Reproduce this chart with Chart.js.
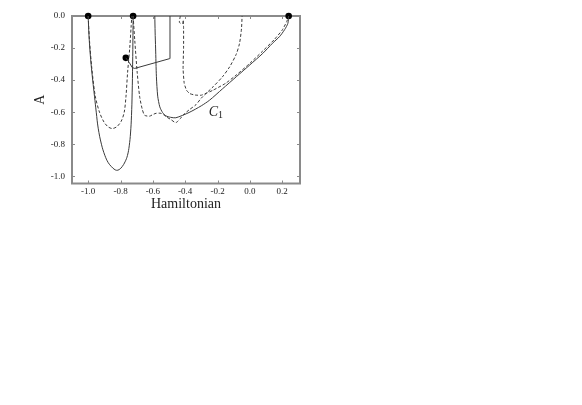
<!DOCTYPE html>
<html>
<head>
<meta charset="utf-8">
<script src="https://cdn.jsdelivr.net/npm/chart.js@4/dist/chart.umd.min.js"></script>
<style>
  html, body { margin: 0; padding: 0; background: #fff; }
  #c { display: block; }
</style>
</head>
<body>
<canvas id="c" width="582" height="405"></canvas>
<script>
// ---- data ----
const xTicks = [-1.0, -0.8, -0.6, -0.4, -0.2, 0.0, 0.2];
const yTicks = [0.0, -0.2, -0.4, -0.6, -0.8, -1.0];

// solid U-shaped curve
const solidUX = [-1.0, -0.996, -0.99, -0.982, -0.972, -0.961, -0.95, -0.938, -0.918, -0.897, -0.876, -0.856, -0.84, -0.825, -0.808, -0.79, -0.772, -0.757, -0.746, -0.738, -0.732, -0.728, -0.725, -0.723, -0.722];
const solidUY = [0.0, -0.1, -0.2, -0.3, -0.4, -0.5, -0.6, -0.7, -0.8, -0.869, -0.915, -0.94, -0.955, -0.9625, -0.958, -0.94, -0.91, -0.87, -0.81, -0.73, -0.62, -0.48, -0.3, -0.12, 0.0];

// dashed U-shaped curve
const dashUX = [-1.0, -0.992, -0.977, -0.956, -0.93, -0.902, -0.876, -0.85, -0.822, -0.796, -0.777, -0.766, -0.756, -0.743, -0.734, -0.73];
const dashUY = [0.0, -0.15, -0.33, -0.5, -0.6, -0.662, -0.692, -0.702, -0.69, -0.657, -0.6, -0.5, -0.35, -0.2, -0.06, 0.0];

// dashed curve running from the second dot to the right
const dash2X = [-0.722, -0.712, -0.697, -0.682, -0.666, -0.651, -0.621, -0.6, -0.58, -0.55, -0.535, -0.519, -0.49, -0.458, -0.43, -0.414, -0.375, -0.333, -0.3, -0.228, -0.17, -0.125, -0.085, -0.064, -0.052, -0.048];
const dash2Y = [0.0, -0.15, -0.35, -0.5, -0.58, -0.619, -0.625, -0.615, -0.607, -0.607, -0.615, -0.628, -0.645, -0.665, -0.64, -0.619, -0.585, -0.553, -0.512, -0.442, -0.38, -0.317, -0.24, -0.171, -0.08, 0.0];

// dashed curve starting near H = -0.43
const dash3X = [-0.43, -0.436, -0.416, -0.412, -0.41, -0.41, -0.413, -0.406, -0.392, -0.372, -0.34, -0.3, -0.228, -0.15, -0.08, 0.0, 0.08, 0.15, 0.2, 0.228, 0.24];
const dash3Y = [0.0, -0.04, -0.05, -0.025, -0.07, -0.2, -0.33, -0.42, -0.463, -0.484, -0.493, -0.494, -0.463, -0.42, -0.365, -0.295, -0.218, -0.148, -0.088, -0.035, 0.0];

// solid curve C1
const c1X = [-0.588, -0.586, -0.583, -0.578, -0.57, -0.557, -0.54, -0.519, -0.49, -0.458, -0.376, -0.3, -0.249, -0.17, -0.084, 0.0, 0.08, 0.14, 0.183, 0.215, 0.235, 0.24];
const c1Y = [0.0, -0.1, -0.2, -0.379, -0.5, -0.567, -0.602, -0.623, -0.632, -0.635, -0.602, -0.56, -0.525, -0.455, -0.379, -0.305, -0.233, -0.17, -0.129, -0.085, -0.046, 0.0];

// solid path from the inner dot
const pathX = [-0.767, -0.746, -0.727, -0.712, -0.496, -0.494, -0.494];
const pathY = [-0.261, -0.29, -0.322, -0.327, -0.266, -0.245, 0.0];

// black dots
const dotX = [-1.0, -0.722, 0.24, -0.767];
const dotY = [0.0, 0.0, 0.0, -0.261];

const curveLabel = 'C';
const curveLabelSub = '1';
const curveLabelAt = { x: -0.255, y: -0.625 };

// ---- build ----
function pts(xs, ys) { return xs.map((x, i) => ({ x: x, y: ys[i] })); }
const SERIF = '"Liberation Serif", "DejaVu Serif", serif';
const LINE = '#3a3a3a';

function lineDS(xs, ys, dashed, tension) {
  return {
    data: pts(xs, ys),
    showLine: true,
    borderColor: LINE,
    borderWidth: 1,
    borderDash: dashed ? [3, 2] : [],
    pointRadius: 0,
    tension: tension,
    fill: false,
    clip: false
  };
}

const datasets = [
  lineDS(solidUX, solidUY, false, 0.4),
  lineDS(dashUX, dashUY, true, 0.3),
  lineDS(dash2X, dash2Y, true, 0.25),
  lineDS(dash3X, dash3Y, true, 0.15),
  lineDS(c1X, c1Y, false, 0.25),
  lineDS(pathX, pathY, false, 0),
  {
    data: pts(dotX, dotY),
    showLine: false,
    pointRadius: 3.3,
    pointBackgroundColor: '#000',
    pointBorderColor: '#000',
    pointBorderWidth: 0,
    clip: false
  }
];

const framePlugin = {
  id: 'frame',
  beforeDatasetsDraw(chart) {
    const { ctx, chartArea: a, scales } = chart;
    ctx.save();
    ctx.strokeStyle = '#8a8a8a';
    ctx.lineWidth = 1;
    xTicks.forEach(v => {
      const px = Math.round(scales.x.getPixelForValue(v)) + 0.5;
      ctx.beginPath();
      ctx.moveTo(px, a.bottom); ctx.lineTo(px, a.bottom - 3);
      ctx.moveTo(px, a.top); ctx.lineTo(px, a.top + 3);
      ctx.stroke();
    });
    yTicks.forEach(v => {
      const py = Math.round(scales.y.getPixelForValue(v)) + 0.5;
      ctx.beginPath();
      ctx.moveTo(a.left, py); ctx.lineTo(a.left + 3, py);
      ctx.moveTo(a.right, py); ctx.lineTo(a.right - 3, py);
      ctx.stroke();
    });
    ctx.lineWidth = 2;
    ctx.strokeStyle = '#8a8a8a';
    ctx.strokeRect(a.left, a.top, a.right - a.left, a.bottom - a.top);
    ctx.restore();
  },
  afterDatasetsDraw(chart) {
    const { ctx, scales } = chart;
    const px = scales.x.getPixelForValue(curveLabelAt.x);
    const py = scales.y.getPixelForValue(curveLabelAt.y);
    ctx.save();
    ctx.fillStyle = '#222';
    ctx.textBaseline = 'alphabetic';
    ctx.textAlign = 'left';
    ctx.font = 'italic 14px ' + SERIF;
    ctx.fillText(curveLabel, px, py);
    const w = ctx.measureText(curveLabel).width;
    ctx.font = '10px ' + SERIF;
    ctx.fillText(curveLabelSub, px + w, py + 2);
    ctx.restore();
  }
};

new Chart(document.getElementById('c').getContext('2d'), {
  type: 'scatter',
  data: { datasets: datasets },
  options: {
    responsive: false,
    animation: false,
    events: [],
    layout: { padding: { top: 16, right: 282, left: 0, bottom: 0 } },
    plugins: { legend: { display: false }, tooltip: { enabled: false } },
    scales: {
      x: {
        type: 'linear',
        min: -1.1,
        max: 0.31,
        afterBuildTicks: s => { s.ticks = xTicks.map(v => ({ value: v })); },
        afterFit: s => { s.height = 221.5; },
        grid: { display: false, drawTicks: false },
        border: { display: false },
        ticks: {
          autoSkip: false, maxRotation: 0, padding: 3,
          color: '#222',
          font: { family: SERIF, size: 9 },
          callback: v => v.toFixed(1)
        },
        title: {
          display: true, text: 'Hamiltonian', color: '#222',
          font: { family: SERIF, size: 14 },
          padding: { top: 0, bottom: 192 }
        }
      },
      y: {
        type: 'linear',
        min: -1.045,
        max: 0,
        afterBuildTicks: s => { s.ticks = yTicks.map(v => ({ value: v })); },
        afterFit: s => { s.width = 72; },
        grid: { display: false, drawTicks: false },
        border: { display: false },
        ticks: {
          autoSkip: false, padding: 7,
          color: '#222',
          font: { family: SERIF, size: 9 },
          callback: v => v.toFixed(1)
        },
        title: {
          display: true, text: 'A', color: '#222',
          font: { family: SERIF, size: 14 },
          padding: { top: 31.6, bottom: 0 }
        }
      }
    }
  },
  plugins: [framePlugin]
});
</script>
</body>
</html>
